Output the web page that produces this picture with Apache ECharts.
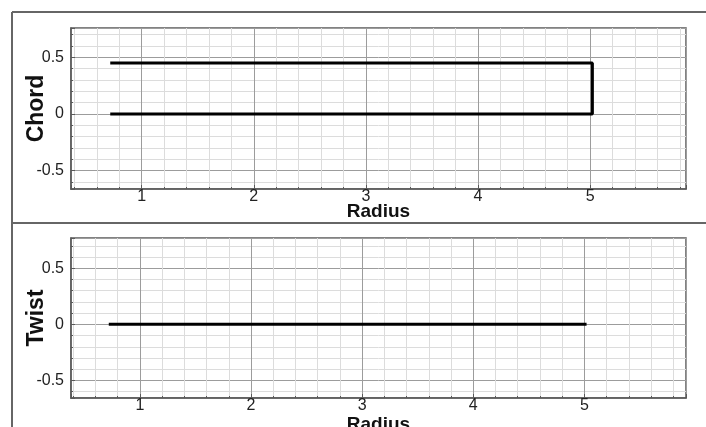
<!DOCTYPE html>
<html>
<head>
<meta charset="utf-8">
<script src="https://cdn.jsdelivr.net/npm/echarts@6/dist/echarts.min.js"></script>
<style>
html,body{margin:0;padding:0;background:#fff;}
#c{width:706px;height:427px;}
</style>
</head>
<body>
<div id="c"></div>
<script>
// Data
var chordRadius = [0.72, 5.02, 5.02, 0.72];
var chordValues = [0.45, 0.45, 0, 0];
var twistRadius = [0.72, 5.02];
var twistValues = [0, 0];

var xTitle = 'Radius';
var yTitles = ['Chord', 'Twist'];

function pairs(xs, ys) {
  return xs.map(function (x, i) { return [x, ys[i]]; });
}

var FONT = '"Liberation Sans", Arial, sans-serif';
var frameColor = '#5a5a5a';

function xAxis(gi, min, max, gap) {
  return {
    type: 'value', gridIndex: gi, min: min, max: max, splitNumber: 5,
    name: xTitle, nameLocation: 'middle', nameGap: gap, nameMoveOverlap: false,
    nameTextStyle: { fontFamily: FONT, fontWeight: 'bold', fontSize: 19, color: '#111' },
    axisLine: { show: true, onZero: false, lineStyle: { color: frameColor, width: 1.5 } },
    axisTick: { show: true, inside: true, length: 4, lineStyle: { color: frameColor } },
    minorTick: { show: true, splitNumber: 5, length: 2, lineStyle: { color: frameColor } },
    axisLabel: { fontFamily: FONT, fontSize: 16, color: '#222', margin: 0, showMinLabel: false, showMaxLabel: false },
    splitLine: { show: true, lineStyle: { color: '#9c9c9c', width: 1 } },
    minorSplitLine: { show: true, lineStyle: { color: '#dcdcdc', width: 1 } }
  };
}
function yAxis(gi, min, max, title) {
  return {
    type: 'value', gridIndex: gi, min: min, max: max, splitNumber: 3,
    name: title, nameLocation: 'middle', nameGap: 23, nameRotate: 90, nameMoveOverlap: false,
    nameTextStyle: { fontFamily: FONT, fontWeight: 'bold', fontSize: 23, color: '#111' },
    axisLine: { show: true, onZero: false, lineStyle: { color: frameColor, width: 1.5 } },
    axisTick: { show: true, inside: true, length: 4, lineStyle: { color: frameColor } },
    minorTick: { show: true, splitNumber: 5, length: 2, lineStyle: { color: frameColor } },
    axisLabel: { fontFamily: FONT, fontSize: 16, color: '#222', margin: 7, showMinLabel: false, showMaxLabel: false },
    splitLine: { show: true, lineStyle: { color: '#9c9c9c', width: 1 } },
    minorSplitLine: { show: true, lineStyle: { color: '#dcdcdc', width: 1 } }
  };
}

var chart = echarts.init(document.getElementById('c'), null, { renderer: 'canvas' });
chart.setOption({
  animation: false,
  backgroundColor: '#fff',
  grid: [
    { left: 71, top: 28, width: 615, height: 161, show: true, borderColor: frameColor, borderWidth: 1.5, backgroundColor: 'transparent', outerBoundsMode: 'none', containLabel: false },
    { left: 71, top: 238, width: 615, height: 160, show: true, borderColor: frameColor, borderWidth: 1.5, backgroundColor: 'transparent', outerBoundsMode: 'none', containLabel: false }
  ],
  xAxis: [ xAxis(0, 0.37, 5.855, 13), xAxis(1, 0.38, 5.915, 17) ],
  yAxis: [ yAxis(0, -0.661, 0.758, yTitles[0]), yAxis(1, -0.657, 0.77, yTitles[1]) ],
  series: [
    { type: 'line', xAxisIndex: 0, yAxisIndex: 0, data: pairs(chordRadius, chordValues),
      showSymbol: false, lineStyle: { color: '#000', width: 3 } },
    { type: 'line', xAxisIndex: 1, yAxisIndex: 1, data: pairs(twistRadius, twistValues),
      showSymbol: false, lineStyle: { color: '#000', width: 3 } }
  ],
  graphic: [
    { type: 'line', shape: { x1: 12, y1: 12, x2: 706, y2: 12 }, style: { stroke: '#666', lineWidth: 2 } },
    { type: 'line', shape: { x1: 12, y1: 12, x2: 12, y2: 427 }, style: { stroke: '#666', lineWidth: 2 } },
    { type: 'line', shape: { x1: 12, y1: 223, x2: 706, y2: 223 }, style: { stroke: '#666', lineWidth: 2 } }
  ]
});
</script>
</body>
</html>
